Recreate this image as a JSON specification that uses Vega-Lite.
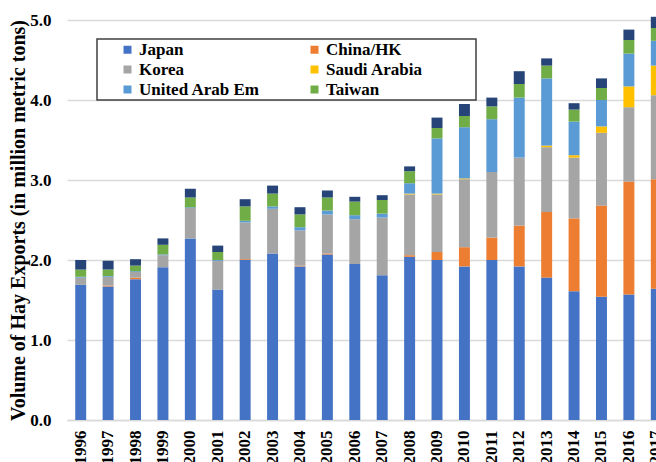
{
  "$schema": "https://vega.github.io/schema/vega-lite/v6.json",
  "width": 589,
  "height": 400,
  "autosize": {"type": "none"},
  "padding": {"left": 67, "top": 20, "right": 0, "bottom": 42},
  "background": "white",
  "config": {
    "view": {"stroke": null},
    "font": "Liberation Serif",
    "legend": {"strokeWidth": 1.5}
  },
  "datasets": {
    "countries": [
      {"country": "Japan", "stack": 1},
      {"country": "China/HK", "stack": 2},
      {"country": "Korea", "stack": 3},
      {"country": "Saudi Arabia", "stack": 4},
      {"country": "United Arab Em", "stack": 5},
      {"country": "Taiwan", "stack": 6},
      {"country": "Other", "stack": 7}
    ],
    "exports": [
      {"year": "1996", "country": "Japan", "value": 1.69},
      {"year": "1996", "country": "Korea", "value": 0.09},
      {"year": "1996", "country": "United Arab Em", "value": 0.01},
      {"year": "1996", "country": "Taiwan", "value": 0.09},
      {"year": "1996", "country": "Other", "value": 0.12},
      {"year": "1997", "country": "Japan", "value": 1.67},
      {"year": "1997", "country": "China/HK", "value": 0.01},
      {"year": "1997", "country": "Korea", "value": 0.11},
      {"year": "1997", "country": "United Arab Em", "value": 0.01},
      {"year": "1997", "country": "Taiwan", "value": 0.08},
      {"year": "1997", "country": "Other", "value": 0.11},
      {"year": "1998", "country": "Japan", "value": 1.76},
      {"year": "1998", "country": "China/HK", "value": 0.02},
      {"year": "1998", "country": "Korea", "value": 0.07},
      {"year": "1998", "country": "United Arab Em", "value": 0.01},
      {"year": "1998", "country": "Taiwan", "value": 0.07},
      {"year": "1998", "country": "Other", "value": 0.08},
      {"year": "1999", "country": "Japan", "value": 1.91},
      {"year": "1999", "country": "Korea", "value": 0.15},
      {"year": "1999", "country": "United Arab Em", "value": 0.01},
      {"year": "1999", "country": "Taiwan", "value": 0.12},
      {"year": "1999", "country": "Other", "value": 0.08},
      {"year": "2000", "country": "Japan", "value": 2.27},
      {"year": "2000", "country": "Korea", "value": 0.38},
      {"year": "2000", "country": "United Arab Em", "value": 0.01},
      {"year": "2000", "country": "Taiwan", "value": 0.12},
      {"year": "2000", "country": "Other", "value": 0.11},
      {"year": "2001", "country": "Japan", "value": 1.63},
      {"year": "2001", "country": "Korea", "value": 0.36},
      {"year": "2001", "country": "United Arab Em", "value": 0.01},
      {"year": "2001", "country": "Taiwan", "value": 0.10},
      {"year": "2001", "country": "Other", "value": 0.08},
      {"year": "2002", "country": "Japan", "value": 2.00},
      {"year": "2002", "country": "China/HK", "value": 0.01},
      {"year": "2002", "country": "Korea", "value": 0.46},
      {"year": "2002", "country": "United Arab Em", "value": 0.02},
      {"year": "2002", "country": "Taiwan", "value": 0.18},
      {"year": "2002", "country": "Other", "value": 0.09},
      {"year": "2003", "country": "Japan", "value": 2.08},
      {"year": "2003", "country": "Korea", "value": 0.56},
      {"year": "2003", "country": "United Arab Em", "value": 0.03},
      {"year": "2003", "country": "Taiwan", "value": 0.16},
      {"year": "2003", "country": "Other", "value": 0.10},
      {"year": "2004", "country": "Japan", "value": 1.92},
      {"year": "2004", "country": "China/HK", "value": 0.01},
      {"year": "2004", "country": "Korea", "value": 0.44},
      {"year": "2004", "country": "United Arab Em", "value": 0.04},
      {"year": "2004", "country": "Taiwan", "value": 0.16},
      {"year": "2004", "country": "Other", "value": 0.09},
      {"year": "2005", "country": "Japan", "value": 2.07},
      {"year": "2005", "country": "China/HK", "value": 0.01},
      {"year": "2005", "country": "Korea", "value": 0.49},
      {"year": "2005", "country": "United Arab Em", "value": 0.05},
      {"year": "2005", "country": "Taiwan", "value": 0.16},
      {"year": "2005", "country": "Other", "value": 0.09},
      {"year": "2006", "country": "Japan", "value": 1.95},
      {"year": "2006", "country": "Korea", "value": 0.56},
      {"year": "2006", "country": "United Arab Em", "value": 0.05},
      {"year": "2006", "country": "Taiwan", "value": 0.17},
      {"year": "2006", "country": "Other", "value": 0.06},
      {"year": "2007", "country": "Japan", "value": 1.81},
      {"year": "2007", "country": "Korea", "value": 0.72},
      {"year": "2007", "country": "United Arab Em", "value": 0.05},
      {"year": "2007", "country": "Taiwan", "value": 0.17},
      {"year": "2007", "country": "Other", "value": 0.06},
      {"year": "2008", "country": "Japan", "value": 2.04},
      {"year": "2008", "country": "China/HK", "value": 0.02},
      {"year": "2008", "country": "Korea", "value": 0.76},
      {"year": "2008", "country": "Saudi Arabia", "value": 0.01},
      {"year": "2008", "country": "United Arab Em", "value": 0.13},
      {"year": "2008", "country": "Taiwan", "value": 0.15},
      {"year": "2008", "country": "Other", "value": 0.06},
      {"year": "2009", "country": "Japan", "value": 2.00},
      {"year": "2009", "country": "China/HK", "value": 0.10},
      {"year": "2009", "country": "Korea", "value": 0.72},
      {"year": "2009", "country": "Saudi Arabia", "value": 0.01},
      {"year": "2009", "country": "United Arab Em", "value": 0.69},
      {"year": "2009", "country": "Taiwan", "value": 0.13},
      {"year": "2009", "country": "Other", "value": 0.13},
      {"year": "2010", "country": "Japan", "value": 1.92},
      {"year": "2010", "country": "China/HK", "value": 0.24},
      {"year": "2010", "country": "Korea", "value": 0.85},
      {"year": "2010", "country": "Saudi Arabia", "value": 0.01},
      {"year": "2010", "country": "United Arab Em", "value": 0.64},
      {"year": "2010", "country": "Taiwan", "value": 0.14},
      {"year": "2010", "country": "Other", "value": 0.15},
      {"year": "2011", "country": "Japan", "value": 2.00},
      {"year": "2011", "country": "China/HK", "value": 0.28},
      {"year": "2011", "country": "Korea", "value": 0.82},
      {"year": "2011", "country": "United Arab Em", "value": 0.66},
      {"year": "2011", "country": "Taiwan", "value": 0.16},
      {"year": "2011", "country": "Other", "value": 0.11},
      {"year": "2012", "country": "Japan", "value": 1.92},
      {"year": "2012", "country": "China/HK", "value": 0.51},
      {"year": "2012", "country": "Korea", "value": 0.85},
      {"year": "2012", "country": "United Arab Em", "value": 0.75},
      {"year": "2012", "country": "Taiwan", "value": 0.17},
      {"year": "2012", "country": "Other", "value": 0.16},
      {"year": "2013", "country": "Japan", "value": 1.78},
      {"year": "2013", "country": "China/HK", "value": 0.82},
      {"year": "2013", "country": "Korea", "value": 0.81},
      {"year": "2013", "country": "Saudi Arabia", "value": 0.02},
      {"year": "2013", "country": "United Arab Em", "value": 0.84},
      {"year": "2013", "country": "Taiwan", "value": 0.16},
      {"year": "2013", "country": "Other", "value": 0.09},
      {"year": "2014", "country": "Japan", "value": 1.61},
      {"year": "2014", "country": "China/HK", "value": 0.91},
      {"year": "2014", "country": "Korea", "value": 0.76},
      {"year": "2014", "country": "Saudi Arabia", "value": 0.03},
      {"year": "2014", "country": "United Arab Em", "value": 0.42},
      {"year": "2014", "country": "Taiwan", "value": 0.15},
      {"year": "2014", "country": "Other", "value": 0.08},
      {"year": "2015", "country": "Japan", "value": 1.54},
      {"year": "2015", "country": "China/HK", "value": 1.14},
      {"year": "2015", "country": "Korea", "value": 0.91},
      {"year": "2015", "country": "Saudi Arabia", "value": 0.08},
      {"year": "2015", "country": "United Arab Em", "value": 0.33},
      {"year": "2015", "country": "Taiwan", "value": 0.15},
      {"year": "2015", "country": "Other", "value": 0.12},
      {"year": "2016", "country": "Japan", "value": 1.57},
      {"year": "2016", "country": "China/HK", "value": 1.41},
      {"year": "2016", "country": "Korea", "value": 0.93},
      {"year": "2016", "country": "Saudi Arabia", "value": 0.26},
      {"year": "2016", "country": "United Arab Em", "value": 0.41},
      {"year": "2016", "country": "Taiwan", "value": 0.17},
      {"year": "2016", "country": "Other", "value": 0.13},
      {"year": "2017", "country": "Japan", "value": 1.64},
      {"year": "2017", "country": "China/HK", "value": 1.37},
      {"year": "2017", "country": "Korea", "value": 1.05},
      {"year": "2017", "country": "Saudi Arabia", "value": 0.37},
      {"year": "2017", "country": "United Arab Em", "value": 0.31},
      {"year": "2017", "country": "Taiwan", "value": 0.16},
      {"year": "2017", "country": "Other", "value": 0.14}
    ]
  },
  "data": {"name": "exports"},
  "transform": [
    {"lookup": "country", "from": {"data": {"name": "countries"}, "key": "country", "fields": ["stack"]}}
  ],
  "mark": {"type": "bar"},
  "encoding": {
    "x": {
      "field": "year",
      "type": "ordinal",
      "scale": {"range": [0, 603], "paddingInner": 0.6, "paddingOuter": 0.3},
      "axis": {
        "title": null,
        "labelAngle": -90,
        "labelAlign": "right",
        "labelBaseline": "middle",
        "labelFont": "Liberation Serif",
        "labelFontWeight": "bold",
        "labelFontSize": 17,
        "labelColor": "black",
        "labelPadding": 10,
        "ticks": false,
        "domain": true,
        "domainColor": "#d9d9d9",
        "domainWidth": 1.5
      }
    },
    "y": {
      "field": "value",
      "type": "quantitative",
      "stack": "zero",
      "scale": {"domain": [0, 5], "nice": false},
      "axis": {
        "title": "Volume of Hay Exports (in million metric tons)",
        "titleFont": "Liberation Serif",
        "titleFontWeight": "bold",
        "titleFontSize": 20,
        "titleColor": "black",
        "titlePadding": 1,
        "values": [0, 1, 2, 3, 4, 5],
        "format": ".1f",
        "labelFont": "Liberation Serif",
        "labelFontWeight": "bold",
        "labelFontSize": 17,
        "labelColor": "black",
        "labelPadding": 16,
        "ticks": false,
        "domain": false,
        "grid": true,
        "gridColor": "#d9d9d9",
        "gridWidth": 1.5
      }
    },
    "color": {
      "field": "country",
      "type": "nominal",
      "scale": {
        "domain": ["Japan", "China/HK", "Korea", "Saudi Arabia", "United Arab Em", "Taiwan", "Other"],
        "range": ["#4472C4", "#ED7D31", "#A5A5A5", "#FFC000", "#5B9BD5", "#70AD47", "#264478"]
      },
      "legend": {
        "values": ["Japan", "Korea", "United Arab Em", "China/HK", "Saudi Arabia", "Taiwan"],
        "title": " ",
        "titleOrient": "left",
        "titleFontSize": 17,
        "titlePadding": 20,
        "orient": "none",
        "legendX": 30,
        "legendY": 19,
        "columns": 2,
        "gridAlign": "each",
        "columnPadding": 46,
        "rowPadding": 2,
        "padding": 2,
        "strokeColor": "#404040",
        "symbolType": "square",
        "symbolSize": 64,
        "symbolStrokeWidth": 0,
        "labelFont": "Liberation Serif",
        "labelFontWeight": "bold",
        "labelFontSize": 17,
        "labelColor": "black",
        "labelOffset": 3,
        "labelLimit": 400,
        "labelExpr": "(datum.label == 'China/HK' || datum.label == 'Saudi Arabia' || datum.label == 'Taiwan') ? datum.label + '\u00a0\u00a0\u00a0\u00a0\u00a0\u00a0\u00a0\u00a0\u00a0\u00a0\u00a0\u00a0\u200b' : datum.label"
      }
    },
    "order": {"field": "stack", "type": "quantitative"}
  }
}
